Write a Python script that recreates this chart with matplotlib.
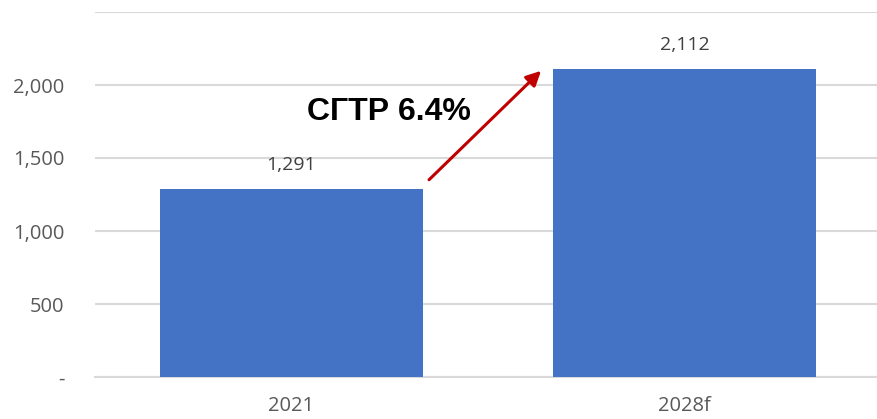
import matplotlib.pyplot as plt
from matplotlib.ticker import FuncFormatter

# data
years = ["2021", "2028f"]
values = [1291, 2112]
value_labels = ["1,291", "2,112"]
cagr_label = "СГТР 6.4%"
y_ticks = [0, 500, 1000, 1500, 2000, 2500]

plt.rcParams['font.family'] = ['Open Sans', 'DejaVu Sans']

fig = plt.figure(figsize=(8.77, 4.19), dpi=100)
ax = fig.add_axes([95 / 877, 42 / 419, 786 / 877, 365 / 419])

bar_w = 0.67
x = range(len(years))
ax.bar(x, values, width=bar_w, color="#4472C4", zorder=3)

# value labels above bars
for i, v in enumerate(values):
    ax.text(i, v + 160, value_labels[i], ha="center", va="center",
            fontsize=14, color="#404040")

ax.set_xlim(-0.5, 1.5)
ax.set_ylim(0, 2500)
ax.set_yticks(y_ticks)


def fmt(v, pos):
    if v == 0:
        return "-"
    if v >= 2500:
        return ""
    return "{:,.0f}".format(v)


ax.yaxis.set_major_formatter(FuncFormatter(fmt))
ax.set_xticks(list(x))
ax.set_xticklabels(years)
ax.tick_params(axis="y", length=0, pad=22, labelsize=14.5, labelcolor="#595959")
ax.tick_params(axis="x", length=0, pad=14, labelsize=14.5, labelcolor="#595959")

ax.grid(axis="y", color="#d9d9d9", linewidth=1.5, zorder=0)
for s in ["top", "right", "left"]:
    ax.spines[s].set_visible(False)
ax.spines["bottom"].set_color("#d9d9d9")
ax.spines["bottom"].set_linewidth(1.5)

# CAGR arrow between bar tops
ax.annotate("", xy=(1 - bar_w / 2 - 0.03, values[1] - 15),
            xytext=(bar_w / 2 + 0.015, values[0] + 60),
            arrowprops=dict(arrowstyle="-|>", color="#C00000", lw=2.2,
                            mutation_scale=22, shrinkA=0, shrinkB=0),
            zorder=4)
ax.text(0.248, 1815, cagr_label, ha="center", va="center", fontsize=23,
        fontweight="bold", family=["Liberation Sans", "DejaVu Sans"], color="black")

fig.savefig("out.png", dpi=100)
